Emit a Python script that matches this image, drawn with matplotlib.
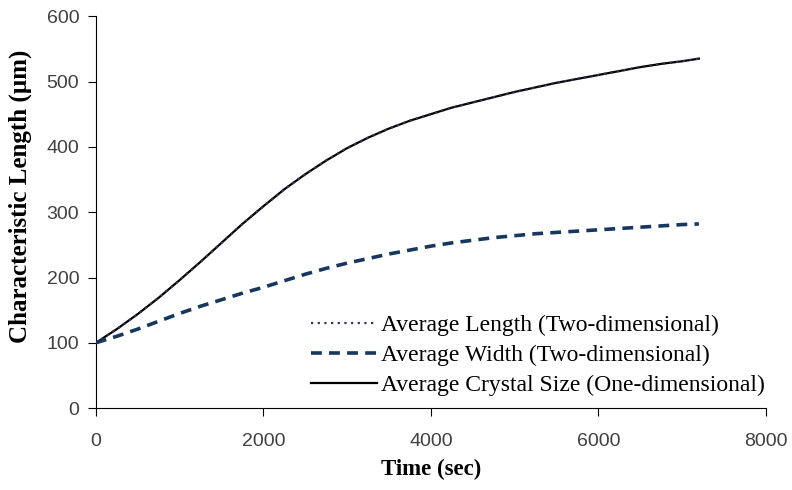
import matplotlib.pyplot as plt

# data
time_s = [0, 250, 500, 750, 1000, 1250, 1500, 1750, 2000, 2250, 2500, 2750, 3000, 3250, 3500,
          3750, 4000, 4250, 4500, 4750, 5000, 5250, 5500, 5750, 6000, 6250, 6500, 6750, 7000, 7200]
avg_length = [100, 121, 144, 169, 196, 224, 253, 282, 309, 335, 358, 379, 398, 414, 428,
              440, 450, 460, 468, 476, 484, 491, 498, 504, 510, 516, 522, 527, 531, 535]
avg_width = [100, 110, 121, 133, 145, 156, 166, 176, 185, 195, 205, 214, 222, 229, 236,
             242, 248, 253, 257, 261, 264, 267, 269, 271, 273, 275, 277, 279, 281, 282]
avg_crystal = [100, 121, 144, 169, 196, 224, 253, 282, 309, 335, 358, 379, 398, 414, 428,
               440, 450, 460, 468, 476, 484, 491, 498, 504, 510, 516, 522, 527, 531, 535]

fig = plt.figure(figsize=(7.92, 4.9), dpi=100)
ax = fig.add_axes([0.121, 0.167, 0.846, 0.8])

ax.plot(time_s, avg_crystal, color='black', lw=1.6, label='Average Crystal Size (One-dimensional)', zorder=2)
ax.plot(time_s, avg_length, color='#403152', lw=1.6, ls=(0, (1, 2)), label='Average Length (Two-dimensional)', zorder=3)
ax.plot(time_s, avg_width, color='#17375e', lw=2.6, ls=(0, (3, 2)), label='Average Width (Two-dimensional)', zorder=3)

ax.set_xlim(0, 8000)
ax.set_ylim(0, 600)
ax.set_xticks(range(0, 8001, 2000))
ax.set_yticks(range(0, 601, 100))
for s in ['top', 'right']:
    ax.spines[s].set_visible(False)
ax.tick_params(direction='out', length=6, labelsize=14, labelcolor='#404040')
ax.tick_params(axis='x', pad=12)
ax.tick_params(axis='y', pad=6)
for lab in ax.get_xticklabels() + ax.get_yticklabels():
    lab.set_family('Liberation Sans')

ax.set_xlabel('Time (sec)', fontfamily='Liberation Serif', fontweight='bold', fontsize=16.5, labelpad=6)
ax.set_ylabel('Characteristic Length (µm)', fontfamily='Liberation Serif', fontweight='bold', fontsize=18)
ax.yaxis.set_label_coords(-0.095, 0.54)

h, l = ax.get_legend_handles_labels()
order = [1, 2, 0]
ax.legend([h[i] for i in order], [l[i] for i in order], loc='lower right',
          bbox_to_anchor=(1.016, 0.0), frameon=False, handlelength=2.8, handletextpad=0.15,
          labelspacing=0.36, borderpad=0.3, borderaxespad=0.2,
          prop={'family': 'Liberation Serif', 'size': 17})

fig.savefig('out.png', dpi=100)
